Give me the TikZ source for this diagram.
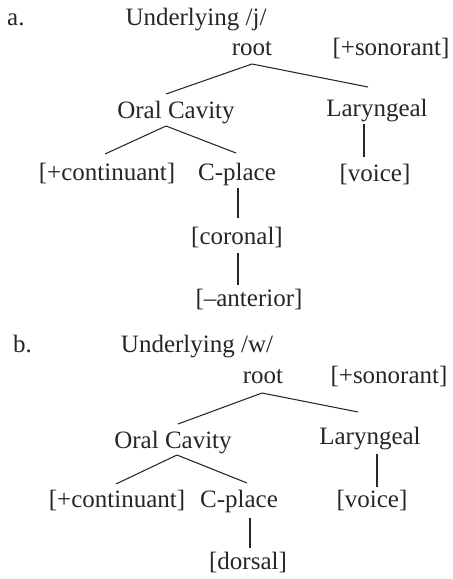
\documentclass[tikz,border=0pt]{standalone}
\usepackage{fontspec}
\setmainfont{Liberation Serif}
\definecolor{ink}{HTML}{262626}
\begin{document}
\begin{tikzpicture}[x=1pt,y=-1pt,
  lbl/.style={inner sep=0pt, anchor=base, text=ink, font=\fontsize{25}{30}\selectfont},
  edge/.style={draw=ink, line width=1.05pt}]
\useasboundingbox (0,0) rectangle (453,579);
% ---------- a ----------
\node[lbl, anchor=base west] (la) at (7,25) {a.};
\node[lbl] (ulj) at (196,25) {Underlying /j/};
\node[lbl] (root1) at (252,55) {root};
\node[lbl] (son1) at (391,55) {[+sonorant]};
\node[lbl] (oral1) at (176,118) {Oral Cavity};
\node[lbl] (lar1) at (377,116) {Laryngeal};
\node[lbl] (cont1) at (107,180) {[+continuant]};
\node[lbl] (cpl1) at (237,180) {C-place};
\node[lbl] (voi1) at (375,181) {[voice]};
\node[lbl] (cor1) at (237,244) {[coronal]};
\node[lbl] (ant1) at (249,306) {[–anterior]};
\draw[edge] ([shift={(0,9)}]root1.base) -- ([shift={(-10,-24)}]oral1.base);
\draw[edge] ([shift={(0,9)}]root1.base) -- ([shift={(-9,-29)}]lar1.base);
\draw[edge] ([shift={(-10,8)}]oral1.base) -- ([shift={(-2,-26)}]cont1.base);
\draw[edge] ([shift={(-10,8)}]oral1.base) -- ([shift={(-1,-27)}]cpl1.base);
\draw[edge] ([shift={(-13,8)}]lar1.base) -- ([shift={(-11,-24)}]voi1.base);
\draw[edge] ([shift={(1,8)}]cpl1.base) -- ([shift={(1,-26)}]cor1.base);
\draw[edge] ([shift={(1,9)}]cor1.base) -- ([shift={(-11,-21)}]ant1.base);
% ---------- b ----------
\node[lbl, anchor=base west] (lb) at (13,352) {b.};
\node[lbl] (ulw) at (197,352) {Underlying /w/};
\node[lbl] (root2) at (263,383) {root};
\node[lbl] (son2) at (389,383) {[+sonorant]};
\node[lbl] (oral2) at (173,448) {Oral Cavity};
\node[lbl] (lar2) at (370,444) {Laryngeal};
\node[lbl] (cont2) at (117,507) {[+continuant]};
\node[lbl] (cpl2) at (239,507) {C-place};
\node[lbl] (voi2) at (372,507) {[voice]};
\node[lbl] (dor2) at (248,569) {[dorsal]};
\draw[edge] ([shift={(-1,10)}]root2.base) -- ([shift={(5,-24)}]oral2.base);
\draw[edge] ([shift={(-1,10)}]root2.base) -- ([shift={(-12,-32)}]lar2.base);
\draw[edge] ([shift={(4,7)}]oral2.base) -- ([shift={(-1,-23)}]cont2.base);
\draw[edge] ([shift={(4,7)}]oral2.base) -- ([shift={(8,-24)}]cpl2.base);
\draw[edge] ([shift={(7,10)}]lar2.base) -- ([shift={(5,-20)}]voi2.base);
\draw[edge] ([shift={(11,11)}]cpl2.base) -- ([shift={(2,-21)}]dor2.base);
\end{tikzpicture}
\end{document}
